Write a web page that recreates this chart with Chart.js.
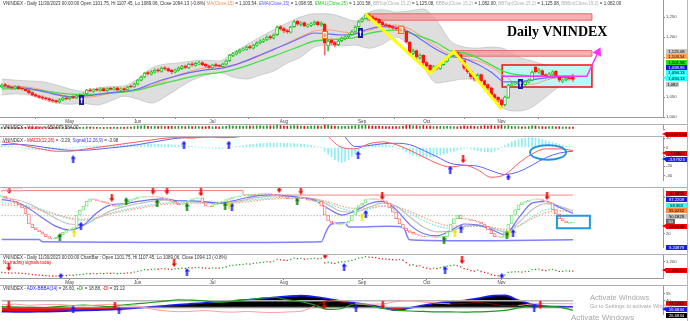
<!DOCTYPE html>
<html><head><meta charset="utf-8">
<script src="https://cdn.jsdelivr.net/npm/chart.js@4.4.1/dist/chart.umd.min.js"></script>
<style>
html,body{margin:0;padding:0;background:#fff}
body{width:690px;height:321px;overflow:hidden;position:relative;font-family:"Liberation Sans",Arial,sans-serif}
canvas{position:absolute;left:0}
.t{position:absolute;white-space:nowrap;line-height:1;font-size:4.5px;color:#333}
.b{position:absolute;left:666px;width:21px;height:5px;font-size:4.2px;line-height:5px;text-align:center;white-space:nowrap;overflow:hidden;color:#000}
.ar{position:absolute;left:662px;width:0;height:0;border-top:2.5px solid transparent;border-bottom:2.5px solid transparent;border-right:4px solid #000}
.hl{position:absolute;left:0;width:688px;height:1px;background:#b0b0b0}
.aw{position:absolute;white-space:nowrap;line-height:1;color:rgba(150,150,150,0.85)}
</style></head><body>
<canvas id="cMain" width="690" height="124" style="top:0"></canvas>
<canvas id="cVol" width="690" height="12" style="top:124px"></canvas>
<canvas id="cMacd" width="690" height="51" style="top:136px"></canvas>
<canvas id="cSto" width="690" height="67" style="top:187px"></canvas>
<canvas id="cBar" width="690" height="31" style="top:254px"></canvas>
<canvas id="cAdx" width="690" height="36" style="top:285px"></canvas>

<div class="hl" style="top:124px"></div>
<div class="hl" style="top:136px"></div>
<div class="hl" style="top:187px"></div>
<div class="hl" style="top:254px"></div>
<div class="hl" style="top:285px"></div>
<div style="position:absolute;left:687px;top:0;width:1px;height:321px;background:#b8b8b8"></div>

<div class="t" style="left:3px;top:1.5px">VNINDEX - Daily 11/30/2023 00:00:00 Open 1101.75, Hi 1107.45, Lo 1089.06, Close 1094.13 (-0.8%) <span style="color:#ff8f50">MA(Close,15)</span> = 1,103.54, <span style="color:#5555ff">EMA(Close,15)</span> = 1,098.95, <span style="color:#22cc22">EMA1(Close,25)</span> = 1,101.58, <span style="color:#b0b0b0">BBTop(Close,15,2)</span> = 1,125.08, <span style="color:#b0b0b0">BBBot(Close,15,2)</span> = 1,082.00, <span style="color:#b0b0b0">BBTop(Close,15,2)</span> = 1,125.08, <span style="color:#b0b0b0">BBBot(Close,15,2)</span> = 1,082.00</div>
<div style="position:absolute;left:507px;top:25px;font:bold 14px 'Liberation Serif','Times New Roman',serif;line-height:1;color:#000;white-space:nowrap">Daily VNINDEX</div>
<div class="t" style="left:3px;top:126px">VNINDEX - <span style="color:#e00">Volume</span> = 659,979,584.00</div>
<div class="t" style="left:3px;top:139px">VNINDEX - <span style="color:#e00">MACD(12,26)</span> = -3.29, <span style="color:#33f">Signal(12,26,9)</span> = -3.98</div>
<div class="t" style="left:3px;top:189px;color:#ccc">VNINDEX</div>
<div class="t" style="left:3px;top:255.5px">VNINDEX - Daily 11/30/2023 00:00:00 ChartBar : Open 1101.75, Hi 1107.45, Lo 1089.06, Close 1094.13 (-0.8%)</div>
<div class="t" style="left:3px;top:261px;color:#e00">No trading signals today</div>
<div class="t" style="left:3px;top:287px">VNINDEX - <span style="color:#22f">ADX-BBBA(14)</span> = 26.60, <span style="color:#090">+DI</span> = 18.88, <span style="color:#e00">-DI</span> = 33.13</div>

<div class="b" style="top:48.5px;background:#c8c8c8">1,125.08</div>
<div class="b" style="top:54px;background:#ff9f5f">1,103.54</div>
<div class="b" style="top:59.5px;background:#22dd22">1,101.58</div>
<div class="b" style="top:64.5px;background:#1414ee;color:#fff">1,098.95</div>
<div class="b" style="top:70px;background:#33ffff">1,094.13</div>
<div class="ar" style="top:76px;border-right-color:#33ffff"></div>
<div class="b" style="top:76px;background:#33ffff">1,094.13</div>
<div class="b" style="top:81.5px;background:#c8c8c8;width:13px">1,082</div>
<div class="ar" style="top:131.5px;border-right-color:#ee0000"></div>
<div class="b" style="top:131.5px;background:#ee0000;color:#000">659,979,584</div>
<div class="ar" style="top:151px;border-right-color:#ee0000"></div>
<div class="b" style="top:151px;background:#ee0000">-3.28947</div>
<div class="ar" style="top:156.5px;border-right-color:#1a1aff"></div>
<div class="b" style="top:156.5px;background:#1a1aff;color:#fff">-3.97923</div>
<div class="b" style="top:190.5px;background:#ee0000">90.5856</div>
<div class="b" style="top:196.5px;background:#1a1aff;color:#fff">87.2209</div>
<div class="b" style="top:202.5px;background:#33ffff">58.963</div>
<div class="b" style="top:208px;background:#ff8c40">55.0252</div>
<div class="b" style="top:213.5px;background:#c0c0c0">50.1829</div>
<div class="b" style="top:218.5px;background:#666;color:#fff;width:9px">50</div>
<div class="ar" style="top:224px;border-right-color:#ee0000"></div>
<div class="b" style="top:224px;background:#ee0000">42.0538</div>
<div class="b" style="top:245px;background:#1a1aff;color:#fff">9.24879</div>
<div class="ar" style="top:267.5px;border-right-color:#ee0000"></div>
<div class="b" style="top:267.5px;background:#ee0000">1,094.13</div>
<div class="b" style="top:301px;background:#ee0000">33.1263</div>
<div class="ar" style="top:307px;border-right-color:#1a1aff"></div>
<div class="b" style="top:307px;background:#1a1aff;color:#fff">26.6834</div>
<div class="b" style="top:312.5px;background:#000;color:#fff">26.6834</div>

<div class="aw" style="left:590px;top:294px;font-size:7.5px">Activate Windows</div>
<div class="aw" style="left:590px;top:304px;font-size:5.5px">Go to Settings to activate Windows.</div>
<div class="aw" style="left:571px;top:314px;font-size:8px">Activate Windows</div>

<script>
// ---------------- DATA ----------------
const monthNames = ['May','Jun','Jul','Aug','Sep','Oct','Nov'];
const monthIdx   = [20, 40, 62, 83, 106, 125, 147];

const opens = [1076,1081,1078,1075,1071,1076,1072,1070,1066,1061,
1056,1053,1050,1048,1046,1043,1041,1038,1043,1048,
1045,1051,1048,1052,1054,1058,1068,1064,1069,1066,
1071,1066,1072,1069,1073,1067,1071,1068,1077,1075,
1082,1092,1100,1111,1107,1112,1118,1114,1123,1121,
1117,1112,1117,1121,1127,1123,1133,1129,1133,1136,
1132,1128,1123,1131,1129,1126,1132,1141,1154,1157,
1162,1168,1169,1176,1172,1179,1186,1189,1194,1201,
1197,1206,1226,1221,1216,1212,1226,1239,1231,1236,
1227,1229,1232,1238,1230,1232,1178,1192,1186,1181,
1191,1196,1201,1206,1214,1226,1239,1246,1256,1251,
1247,1244,1237,1231,1229,1226,1223,1219,1225,1214,
1187,1159,1166,1149,1154,1136,1129,1117,1127,1121,
1131,1139,1151,1154,1161,1156,1141,1123,1114,1101,
1094,1106,1091,1081,1073,1056,1049,1043,1031,1049,
1079,1083,1084,1088,1081,1087,1092,1125,1112,1116,
1106,1101,1107,1114,1101,1089,1093,1098,1101.75];
const highs = [1083,1084,1080,1077,1078,1078,1075,1072,1068,1063,
1058,1055,1053,1050,1048,1045,1043,1046,1050,1050,
1052,1053,1055,1058,1060,1069,1071,1070,1072,1073,
1073,1073,1074,1075,1075,1073,1073,1077,1080,1085,
1094,1103,1112,1114,1116,1120,1121,1125,1126,1123,
1119,1120,1125,1129,1130,1134,1136,1137,1139,1138,
1134,1130,1132,1134,1131,1135,1142,1157,1161,1166,
1170,1173,1178,1179,1182,1188,1193,1196,1203,1204,
1208,1228,1229,1224,1219,1227,1241,1242,1238,1238,
1233,1236,1240,1240,1238,1234,1195,1196,1189,1193,
1200,1203,1208,1216,1228,1241,1248,1258,1259,1254,
1250,1246,1239,1234,1232,1229,1226,1227,1228,1216,
1189,1170,1168,1158,1156,1139,1131,1129,1130,1134,
1143,1152,1159,1164,1163,1158,1143,1125,1116,1104,
1108,1108,1093,1083,1075,1058,1051,1045,1052,1082,
1086,1089,1091,1090,1091,1095,1115,1128,1121,1118,
1108,1111,1116,1116,1103,1095,1100,1101,1107.45];
const lows = [1074,1076,1072,1069,1069,1069,1067,1064,1058,1053,
1050,1047,1044,1043,1039,1037,1035,1036,1041,1043,
1043,1046,1046,1050,1052,1056,1063,1062,1065,1064,
1064,1064,1067,1067,1065,1065,1066,1066,1073,1074,
1080,1090,1098,1105,1105,1110,1112,1112,1117,1113,
1108,1110,1115,1119,1121,1121,1127,1127,1130,1128,
1124,1120,1121,1125,1124,1124,1130,1139,1151,1155,
1160,1165,1167,1170,1170,1177,1183,1186,1191,1194,
1195,1204,1217,1211,1209,1210,1224,1229,1228,1225,
1224,1226,1230,1228,1227,1155,1165,1180,1175,1178,
1188,1193,1198,1204,1212,1224,1237,1244,1247,1243,
1240,1233,1227,1225,1222,1219,1217,1216,1212,1185,
1155,1155,1146,1145,1130,1124,1113,1114,1118,1119,
1129,1137,1148,1152,1152,1138,1118,1109,1096,1090,
1092,1087,1076,1068,1051,1044,1037,1022,1028,1047,
1076,1080,1081,1078,1079,1085,1090,1110,1109,1102,
1097,1099,1105,1099,1088,1086,1090,1092,1089.06];
const closes = [1080,1078,1074,1072,1075,1071,1070,1066,1060,1055,
1052,1049,1047,1045,1042,1040,1038,1043,1047,1045,
1050,1048,1053,1055,1057,1067,1065,1068,1067,1070,
1066,1071,1069,1072,1067,1070,1068,1075,1075,1082,
1092,1100,1110,1108,1113,1117,1115,1122,1120,1116,
1113,1118,1122,1126,1124,1132,1130,1134,1135,1131,
1127,1124,1130,1128,1127,1132,1140,1155,1158,1163,
1167,1170,1175,1173,1180,1185,1190,1193,1200,1198,
1205,1225,1220,1215,1213,1225,1238,1232,1235,1228,
1230,1233,1237,1231,1235,1185,1190,1185,1180,1190,
1197,1200,1205,1213,1225,1238,1245,1255,1250,1246,
1243,1236,1230,1228,1225,1222,1220,1224,1215,1188,
1160,1165,1150,1155,1135,1128,1118,1126,1122,1132,
1140,1150,1155,1160,1155,1142,1122,1113,1100,1095,
1105,1090,1080,1072,1055,1048,1042,1030,1050,1080,
1082,1085,1087,1082,1088,1092,1112,1113,1117,1105,
1100,1108,1113,1102,1092,1092,1097,1095,1094.13];
const volumeM = [620,540,580,510,560,480,530,620,700,650,
580,520,490,540,610,560,650,720,600,540,
520,480,560,610,590,780,640,700,620,580,
540,620,580,660,600,640,620,760,700,860,
1050,980,1150,920,880,960,840,990,870,930,
980,860,900,950,820,1010,870,920,880,800,
850,900,780,820,760,880,960,1200,1050,990,
1020,950,1100,980,1040,1120,1080,1000,1150,1060,
1100,1250,1180,1060,980,1100,1200,1120,1050,980,
940,1020,1080,1000,960,1650,1350,1100,980,920,
880,950,1020,1100,1180,1250,1200,1300,1150,1050,
980,1020,920,880,850,900,820,880,950,1250,
1400,1100,1150,980,1200,1050,980,900,850,920,
880,960,900,820,780,920,1100,980,1050,920,
860,1000,1150,980,1200,1050,1100,1300,1050,1150,
950,820,880,760,800,900,1100,1050,880,820,
760,840,900,780,820,700,740,690,660];
const macdHist = [2.5,2.2,1.8,1.2,0.5,0,-0.5,-1,-1.5,-2,
-2.3,-2.5,-2.6,-2.6,-2.5,-2.4,-2.2,-1.8,-1.4,-1,
-0.6,-0.2,0.3,0.7,1,1.3,1.5,1.7,1.8,1.9,
2,2.1,2.2,2.3,2.5,2.6,2.7,2.8,2.9,3,
3.1,3.3,3.5,3.6,3.6,3.5,3.4,3.3,3.2,3,
2.8,2.5,2.2,1.9,1.6,1.3,1,0.7,0.4,0.1,
-0.2,-0.5,-0.8,-1,-1.1,-1,-0.6,0,0.5,1,
1.5,2,2.5,3,3.4,3.8,4.1,4.3,4.5,4.6,
4.7,4.8,4.8,4.6,4.4,4.2,4.1,4,3.7,3.3,
2.8,2.2,1.5,0.8,0,-4,-7,-10,-13,-15,
-16,-15,-13,-10,-7,-4,-1,1.5,3,4,
4.5,4.5,4,3.2,2.5,1.5,0.5,-1,-2.5,-5,
-7,-8.5,-9.5,-10,-10.5,-10.5,-10.5,-10,-9,-8,
-7,-6,-5,-4,-3,-2,-1,-0.5,-1.5,-2.5,
-3.5,-4,-4.5,-4.8,-5,-4,-2,0,2,4,
6,7.5,8.5,9.5,10,10.5,10.5,10,9.5,8.5,
7.5,6.5,5.5,4.5,3.5,2.5,1.8,1,0.7];
const stochOsc = [83,80,78,74,71,68,63,53,36,30,
26,23,19,15,12,11,14,18,22,26,
28,30,51,59,66,74,78,77,75,74,
72,70,68,66,66,68,71,74,77,79,
81,82,81,82,81,82,81,80,78,76,
74,71,68,70,74,76,78,79,80,72,
66,65,68,71,73,74,77,79,81,82,
83,84,84,86,85,86,86,87,87,86,
85,84,82,81,79,78,80,81,79,78,
76,75,74,74,66,51,41,38,36,36,
36,38,41,51,63,67,71,77,78,78,
77,76,75,71,63,56,45,36,29,25,
22,19,18,16,15,15,15,14,14,15,
15,23,36,45,51,45,45,44,42,41,
39,36,32,26,20,15,14,14,22,36,
51,60,68,72,74,76,77,78,77,75,
73,71,60,53,45,41,38,38,39];

const sampleX = [0,4,8,12,16,20,24,28,32,36,40,44,48,52,56,60,64,68,72,76,80,84,88,92,96,100,104,108,112,116,120,124,128,132,136,140,144,148,152,156,160,164,168];
const ma15  = [1078,1077,1074,1068,1059,1051,1049,1052,1059,1064,1068,1078,1092,1105,1116,1123,1126,1129,1139,1153,1168,1185,1201,1215,1218,1213,1210,1216,1226,1230,1220,1198,1175,1156,1146,1140,1126,1102,1083,1082,1092,1100,1103.54];
const ema15 = [1075,1075,1071,1064,1056,1051,1052,1056,1061,1064,1070,1083,1095,1104,1112,1118,1121,1129,1141,1155,1169,1183,1198,1210,1208,1205,1208,1220,1226,1225,1212,1190,1168,1152,1146,1132,1112,1088,1088,1093,1098,1099,1098.95];
const ema25 = [1070,1071,1070,1066,1061,1057,1056,1057,1060,1062,1067,1076,1085,1093,1101,1107,1111,1118,1128,1140,1152,1165,1178,1190,1193,1195,1199,1209,1215,1217,1210,1199,1185,1165,1160,1148,1130,1113,1105,1103,1103,1102,1101.58];
const bbTop = [1095,1092,1090,1088,1080,1070,1064,1072,1076,1078,1095,1122,1132,1135,1140,1142,1140,1160,1180,1200,1218,1235,1250,1258,1258,1250,1240,1262,1268,1262,1265,1270,1240,1190,1175,1172,1175,1170,1150,1140,1130,1127,1125.08];
const bbBot = [1055,1058,1055,1045,1035,1032,1034,1030,1040,1052,1045,1035,1050,1072,1092,1104,1112,1100,1095,1105,1115,1135,1150,1175,1180,1178,1180,1172,1182,1200,1175,1125,1085,1090,1095,1090,1055,1020,1015,1025,1050,1075,1082];
const macdLine   = [6,4,1,-2,-4,-4,-2,0,2,4,6,8,10,10.5,10,12,10.5,11,16,21,26,28,30,28,12,0,-1.5,4,6,3,-3,-10,-17,-21,-19,-24,-32,-29,-17,-7,-1.5,-1.5,-3.29];
const signalLine = [3,3.5,2.5,0.5,-1.5,-3,-3,-2,-0.5,1,3,5.5,8,10,11,11,11.5,11,13,17,21,24,26,27,24,15,1,2,4,4.5,3,-3,-10,-17,-19,-20,-25,-29,-26,-19,-11,-6,-3.98];
const stoBlue   = [77,73,62,46,32,26,34,55,68,70,74,77,78,75,75,73,71,75,80,84,85,83,80,76,62,51,58,70,74,60,35,20,16,25,36,34,27,18,46,71,74,64,54];
const stoGray   = [80,77,70,58,45,36,35,46,58,65,70,74,76,75,74,73,72,73,77,81,83,83,81,78,68,57,56,64,71,66,48,31,23,24,32,34,30,23,38,60,70,66,58];
const stoOrange = [68,67,64,58,52,46,44,47,53,58,62,66,69,70,71,71,70,71,73,76,78,79,79,78,73,66,62,63,66,65,57,47,38,33,33,33,31,27,33,45,55,58,55];
const stoCyan   = [72,70,66,60,52,45,42,46,54,60,64,68,71,72,72,71,70,72,75,78,80,81,80,78,71,62,58,61,66,64,54,42,33,29,31,32,29,24,32,48,60,63,59];
const adxLine = [16,15.5,15.5,16,16.5,17.5,18.5,19.5,20.5,22,24,26.5,29,31.5,33.5,35.5,37.5,39.5,42,44.5,47,49.5,51,48.5,44,39,35,31,25.5,19,24,30,35,38,40.5,45,50.5,51.5,41,32,28,27,26.68];
const plusDI  = [27,26,25.5,25,27,29,30.5,29,27,31,33.5,36,39,42,41,39,36.5,39,42,45,47.5,42,38,31,21,23,33,30,23,19.5,17.5,16.5,15.6,15.6,15,15.6,16.5,19,24,29,28,26,18.88];
const minusDI = [31,32.5,30,31.5,32,30,29,30.5,32,30,28,22,18,16,17,18.5,16,15,16.5,15,14,15.5,17,28,40,37,33,32.5,33,38,40,37,35,33,34,36,33,29,29.5,33,34,33.5,33.13];
const adxLevels = [25, 40];

const stoTopX = [0,71,125,168], stoTopY = [90,92,84.5,84.5];
const stoBotX = [0,11,12,94,95,96,97,101,102,118,120,168];
const stoBotY = [10,10,6.5,6.5,18,30,36,38,31,31,9.5,9.5];

const zigX = [107,126,133,147], zigY = [1258,1110,1164,1020];
const trendX = [147.1,172.1,175.4], trendY = [1102,1102,1162];
const zoneX0 = [107.5,132.4], zoneX1 = [173.6,173.6], zoneLo = [1242,1152], zoneHi = [1258,1166];
const rangeBoxX = [147.2,173.6], rangeBoxY = [1075,1130];
const buyMarkX = [23.5,105.5,152.5], buyMarkY = [1042,1210,1083];
const sellMarkX = [95,117.5], sellMarkY = [1205,1218];

const macdUpX = [21,53.6,66.8,104.8,131.9,149], macdUpY = [-12.7,3,3,-8,-23.8,-33];
const macdDnX = [135.7], macdDnY = [-12.7];
const stoDnX = [2.2,32.4,44.5,48.6,58.6,81.6,88,111.9,160.4], stoDnY = [93,80,92,92,89,95,92,83,83];
const stoGreenX = [17.1,36.6,45.7,54.5,65.7,86.9,130.1,148.6], stoGreenY = [14,74,71,65,66,74,9.5,17];
const stoYellowX = [21.3,66.9,106,133.3,149.2], stoYellowY = [21,68,48,21,21];
const stoBlueUpX = [23.3,67.7,107.1,135.1,150.4], stoBlueUpY = [33,65,53,27,21];
const barDnX = [2.1,50.7,95.1,135.4], barDnY = [1140,1184,1273,1218];
const barUpX = [17.4,54.5,100.7,130.4,147.1], barUpY = [1030,1084,1140,1107,1030];
const adxDnX = [2.1,33.3,94.8,112.1,158.4], adxDnY = [30,28,30,31,31];
const adxUpX = [21,34.5,104.2,156.6], adxUpY = [21,18,23,25];

// ---------------- HELPERS ----------------
const FONT = '"Liberation Sans", Arial, sans-serif';
Chart.defaults.font.family = FONT;
const X_MIN = -0.5, X_MAX = 194.5;
const ix = closes.map((c, i) => i);
const isUp = ix.map(i => closes[i] >= opens[i]);
const pts = (xs, ys) => xs.map((x, i) => ({x, y: ys[i]}));

function arrowImg(color, up) {
  const c = document.createElement('canvas'); c.width = 5; c.height = 8;
  const g = c.getContext('2d'); g.fillStyle = color; g.beginPath();
  if (up) { g.moveTo(2.5,0); g.lineTo(5,3.5); g.lineTo(0,3.5); g.closePath(); g.fill(); g.fillRect(1.5,3,2,5); }
  else { g.moveTo(2.5,8); g.lineTo(5,4.5); g.lineTo(0,4.5); g.closePath(); g.fill(); g.fillRect(1.5,0,2,5); }
  return c;
}
function buyBox() {
  const c = document.createElement('canvas'); c.width = 5; c.height = 10;
  const g = c.getContext('2d'); g.fillStyle = '#1c1ca0'; g.fillRect(0,0,5,10);
  g.fillStyle = '#fff'; g.beginPath(); g.moveTo(2.5,2); g.lineTo(4,4.5); g.lineTo(1,4.5); g.closePath(); g.fill(); g.fillRect(2,4,1,4);
  return c;
}
function sellBox() {
  const c = document.createElement('canvas'); c.width = 6; c.height = 8;
  const g = c.getContext('2d'); g.fillStyle = '#ff6a10'; g.fillRect(0,0,6,8);
  g.fillStyle = '#fff'; g.fillRect(1,1,4,6);
  g.fillStyle = '#ff6a10'; g.fillRect(2.5,2,1,2.5); g.beginPath(); g.moveTo(3,6.5); g.lineTo(4.5,4.3); g.lineTo(1.5,4.3); g.closePath(); g.fill();
  return c;
}
const A = { red: arrowImg('#ee0000', false), blue: arrowImg('#1a1aff', true), green: arrowImg('#007a00', true), yellow: arrowImg('#e6e600', true) };

function xAxis(show) {
  return { type:'linear', min:X_MIN, max:X_MAX, offset:false, display:show,
    grid:{display:true, drawOnChartArea:false, drawTicks:true, tickLength:2, color:'#888'},
    border:{display:true, color:'#999'},
    ticks:{autoSkip:false, maxRotation:0, minRotation:0, font:{size:4.6}, color:'#444', padding:0,
      callback:(v) => { const k = monthIdx.indexOf(v); return k >= 0 ? monthNames[k] : ''; }},
    afterBuildTicks:(s) => { s.ticks = monthIdx.map(v => ({value:v})); },
    afterFit:(s) => { s.height = 7; s.paddingLeft = 0; s.paddingRight = 0; } };
}
function yAxis(min, max, tickVals, fmt, showLabels = true) {
  return { position:'right', min, max,
    grid:{display:true, drawOnChartArea:false, drawTicks:true, tickLength:2, color:'#888'},
    border:{display:true, color:'#999'},
    ticks:{display:showLabels, font:{size:4.2}, color:'#444', padding:1, callback: fmt || (v => v)},
    afterBuildTicks:(s) => { s.ticks = tickVals.map(v => ({value:v})); },
    afterFit:(s) => { s.width = 27; s.paddingTop = 0; s.paddingBottom = 0; } };
}
function opts(x, y) {
  return { responsive:false, animation:false, devicePixelRatio:1, events:[],
    layout:{padding:0, autoPadding:false},
    plugins:{legend:{display:false}, tooltip:{enabled:false}},
    scales:{x, y}, elements:{point:{radius:0}} };
}
function shapes(under, over) {
  const draw = (chart, list) => {
    const {ctx, chartArea:a} = chart, x = chart.scales.x, y = chart.scales.y;
    ctx.save(); ctx.beginPath(); ctx.rect(a.left, a.top, a.width, a.height); ctx.clip();
    for (const s of list) {
      const x0 = x.getPixelForValue(s.x0), x1 = x.getPixelForValue(s.x1);
      const y0 = y.getPixelForValue(s.y0), y1 = y.getPixelForValue(s.y1);
      ctx.beginPath();
      if (s.t === 'ellipse') ctx.ellipse((x0+x1)/2, (y0+y1)/2, Math.abs(x1-x0)/2, Math.abs(y1-y0)/2, 0, 0, Math.PI*2);
      else ctx.rect(Math.min(x0,x1), Math.min(y0,y1), Math.abs(x1-x0), Math.abs(y1-y0));
      if (s.fill) { ctx.fillStyle = s.fill; ctx.fill(); }
      if (s.stroke) { ctx.strokeStyle = s.stroke; ctx.lineWidth = s.lw || 1; ctx.stroke(); }
    }
    ctx.restore();
  };
  return { id:'shapes',
    afterDatasetDraw(chart, args) { if (chart.data.datasets[args.index].label === 'under') draw(chart, under); },
    afterDatasetsDraw(chart) { draw(chart, over); } };
}
const ln = (xs, ys, color, w, order, extra = {}) => Object.assign({ type:'line', data:pts(xs, ys), borderColor:color, borderWidth:w, pointRadius:0, fill:false, cubicInterpolationMode:'monotone', order }, extra);
const marks = (xs, ys, img, order = 0) => ({ type:'line', showLine:false, data:pts(xs, ys), pointStyle:img, pointRadius:3, order });

// ---------------- MAIN PRICE PANEL ----------------
const zoneShapes = zoneX0.map((x0, i) => ({ t:'rect', x0, x1:zoneX1[i], y0:zoneLo[i], y1:zoneHi[i], fill:'rgba(244,150,150,0.75)', stroke:'#e86a6a', lw:1 }));
zoneShapes.push({ t:'rect', x0:rangeBoxX[0], x1:rangeBoxX[1], y0:rangeBoxY[0], y1:rangeBoxY[1], fill:'#bdf7f7', stroke:'#ee1111', lw:1.5 });

new Chart(document.getElementById('cMain'), {
  type:'line',
  data:{ datasets:[
    ln(sampleX, bbTop, '#c4c4c4', 0.8, 10, { fill:'+1', backgroundColor:'rgba(214,214,214,0.8)' }),
    ln(sampleX, bbBot, '#c4c4c4', 0.8, 9, { label:'under' }),
    ln(sampleX, ma15, '#ff9f70', 1, 8),
    ln(sampleX, ema25, '#44e044', 1.3, 7),
    ln(sampleX, ema15, '#6a6aff', 1.2, 6),
    { type:'bar', data: ix.map(i => ({x:i, y:[lows[i], highs[i]]})), backgroundColor: ix.map(i => isUp[i] ? '#2ecc2e' : '#ff6a6a'), barThickness:1, grouped:false, order:4 },
    { type:'bar', data: ix.map(i => ({x:i, y:[opens[i], closes[i]]})), backgroundColor: ix.map(i => isUp[i] ? '#ffffff' : '#ff1414'), borderColor: ix.map(i => isUp[i] ? '#22c422' : '#ff1414'), borderWidth:1, borderSkipped:false, barThickness:3, grouped:false, order:3 },
    ln(zigX, zigY, '#ffff00', 3, 2, { cubicInterpolationMode:'default', tension:0 }),
    ln(trendX, trendY, '#ff33ff', 1.5, 1, { cubicInterpolationMode:'default', tension:0, pointRadius:[0,0,4], pointStyle:'triangle', pointRotation:27, pointBackgroundColor:'#ff33ff', pointBorderColor:'#ff33ff' }),
    marks(buyMarkX, buyMarkY, buyBox()),
    marks(sellMarkX, sellMarkY, sellBox())
  ]},
  options: opts(xAxis(true), yAxis(1000, 1292.5, [1000,1050,1100,1150,1200,1250], v => v.toLocaleString('en-US'))),
  plugins:[shapes(zoneShapes, [])]
});

// ---------------- VOLUME ----------------
new Chart(document.getElementById('cVol'), {
  type:'line',
  data:{ datasets:[
    { type:'bar', data: ix.map(i => ({x:i, y:volumeM[i]})), backgroundColor: ix.map(i => isUp[i] ? '#1aa01a' : '#e01010'), barThickness:1, grouped:false }
  ]},
  options: opts(xAxis(false), yAxis(0, 1750, [0], null, false))
});

// ---------------- MACD ----------------
new Chart(document.getElementById('cMacd'), {
  type:'line',
  data:{ datasets:[
    { type:'bar', data: ix.map(i => ({x:i, y:macdHist[i]})), backgroundColor:'#8eeef2', barThickness:1, grouped:false, order:5 },
    ln(sampleX, signalLine, '#6060ff', 1, 3),
    ln(sampleX, macdLine, '#ff5a5a', 1, 2),
    marks(macdUpX, macdUpY, A.blue), marks(macdDnX, macdDnY, A.red)
  ]},
  options: opts(xAxis(false), yAxis(-34.9, 12.3, [-30,-20,-10,0,10])),
  plugins:[shapes([], [{ t:'ellipse', x0:155.4, x1:166, y0:-13.2, y1:2.6, stroke:'#1e90e6', lw:1.8 }])]
});

// ---------------- OSCILLATOR PANEL ----------------
const stoPrev = ix.map(i => i ? stochOsc[i-1] : stochOsc[i]);
new Chart(document.getElementById('cSto'), {
  type:'line',
  data:{ datasets:[
    ln([0,168], [50,50], '#999999', 1, 9, { borderDash:[1,2] }),
    ln(stoTopX, stoTopY, '#ff8080', 1, 8, { stepped:'after', cubicInterpolationMode:'default' }),
    ln(stoBotX, stoBotY, '#8080ff', 1.5, 8, { cubicInterpolationMode:'default', tension:0.2 }),
    ln(sampleX, stoOrange, '#ffa070', 1.2, 7, { borderDash:[1.5,1.5] }),
    ln(sampleX, stoCyan, '#70e0e0', 1.2, 7, { borderDash:[1.5,1.5] }),
    ln(sampleX, stoGray, '#c0c0c0', 1.2, 6),
    ln(sampleX, stoBlue, '#7070ff', 1.2, 5),
    { type:'bar', data: ix.map(i => { const a = stoPrev[i], b = stochOsc[i]; return {x:i, y: Math.abs(a-b) < 1 ? [b-0.8, b+0.8] : [a, b]}; }),
      backgroundColor:'#ffffff', borderColor: ix.map(i => stochOsc[i] >= stoPrev[i] ? '#7ce27c' : '#ff7a7a'), borderWidth:1, borderSkipped:false, barThickness:3, grouped:false, order:3 },
    marks(stoDnX, stoDnY, A.red), marks(stoGreenX, stoGreenY, A.green), marks(stoYellowX, stoYellowY, A.yellow), marks(stoBlueUpX, stoBlueUpY, A.blue)
  ]},
  options: opts(xAxis(false), yAxis(-2.5, 98, [20,80])),
  plugins:[shapes([], [{ t:'rect', x0:163.3, x1:173, y0:29, y1:50, stroke:'#1e9be0', lw:2 }])]
});

// ---------------- CHARTBAR PANEL ----------------
new Chart(document.getElementById('cBar'), {
  type:'line',
  data:{ datasets:[
    { type:'line', showLine:false, data: ix.map(i => ({x:i, y:closes[i]})), pointStyle:'rect', pointRadius:0.9,
      pointBackgroundColor: ix.map(i => isUp[i] ? '#22b022' : '#e02020'), pointBorderWidth:0, order:2 },
    marks(barDnX, barDnY, A.red), marks(barUpX, barUpY, A.blue)
  ]},
  options: opts(xAxis(true), yAxis(1017.8, 1284.4, [1200], v => v.toLocaleString('en-US')))
});

// ---------------- ADX PANEL ----------------
new Chart(document.getElementById('cAdx'), {
  type:'line',
  data:{ datasets:[
    ln(sampleX, adxLine, '#1a1aff', 1.6, 6, { fill:{ target:{value:adxLevels[0]}, above:'#000000', below:'#ff0000' } }),
    ln([0,168], [adxLevels[1],adxLevels[1]], '#b4b4b4', 1.5, 5),
    ln([0,168], [adxLevels[0],adxLevels[0]], '#8c8c8c', 1.5, 5),
    ln(sampleX, plusDI, '#1a9a1a', 1.2, 4),
    ln(sampleX, minusDI, '#ff9c9c', 1, 3, { segment:{ borderColor: c => {
      const i = c.p0DataIndex, j = c.p1DataIndex;
      const inside = minusDI[i] > adxLevels[0] && minusDI[i] < adxLine[i] && minusDI[j] > adxLevels[0] && minusDI[j] < adxLine[j];
      return inside ? '#8a0000' : '#ff9c9c'; } } }),
    marks(adxDnX, adxDnY, A.red), marks(adxUpX, adxUpY, A.blue)
  ]},
  options: opts(xAxis(false), yAxis(11, 74.1, [40,55]))
});
</script>
</body></html>
